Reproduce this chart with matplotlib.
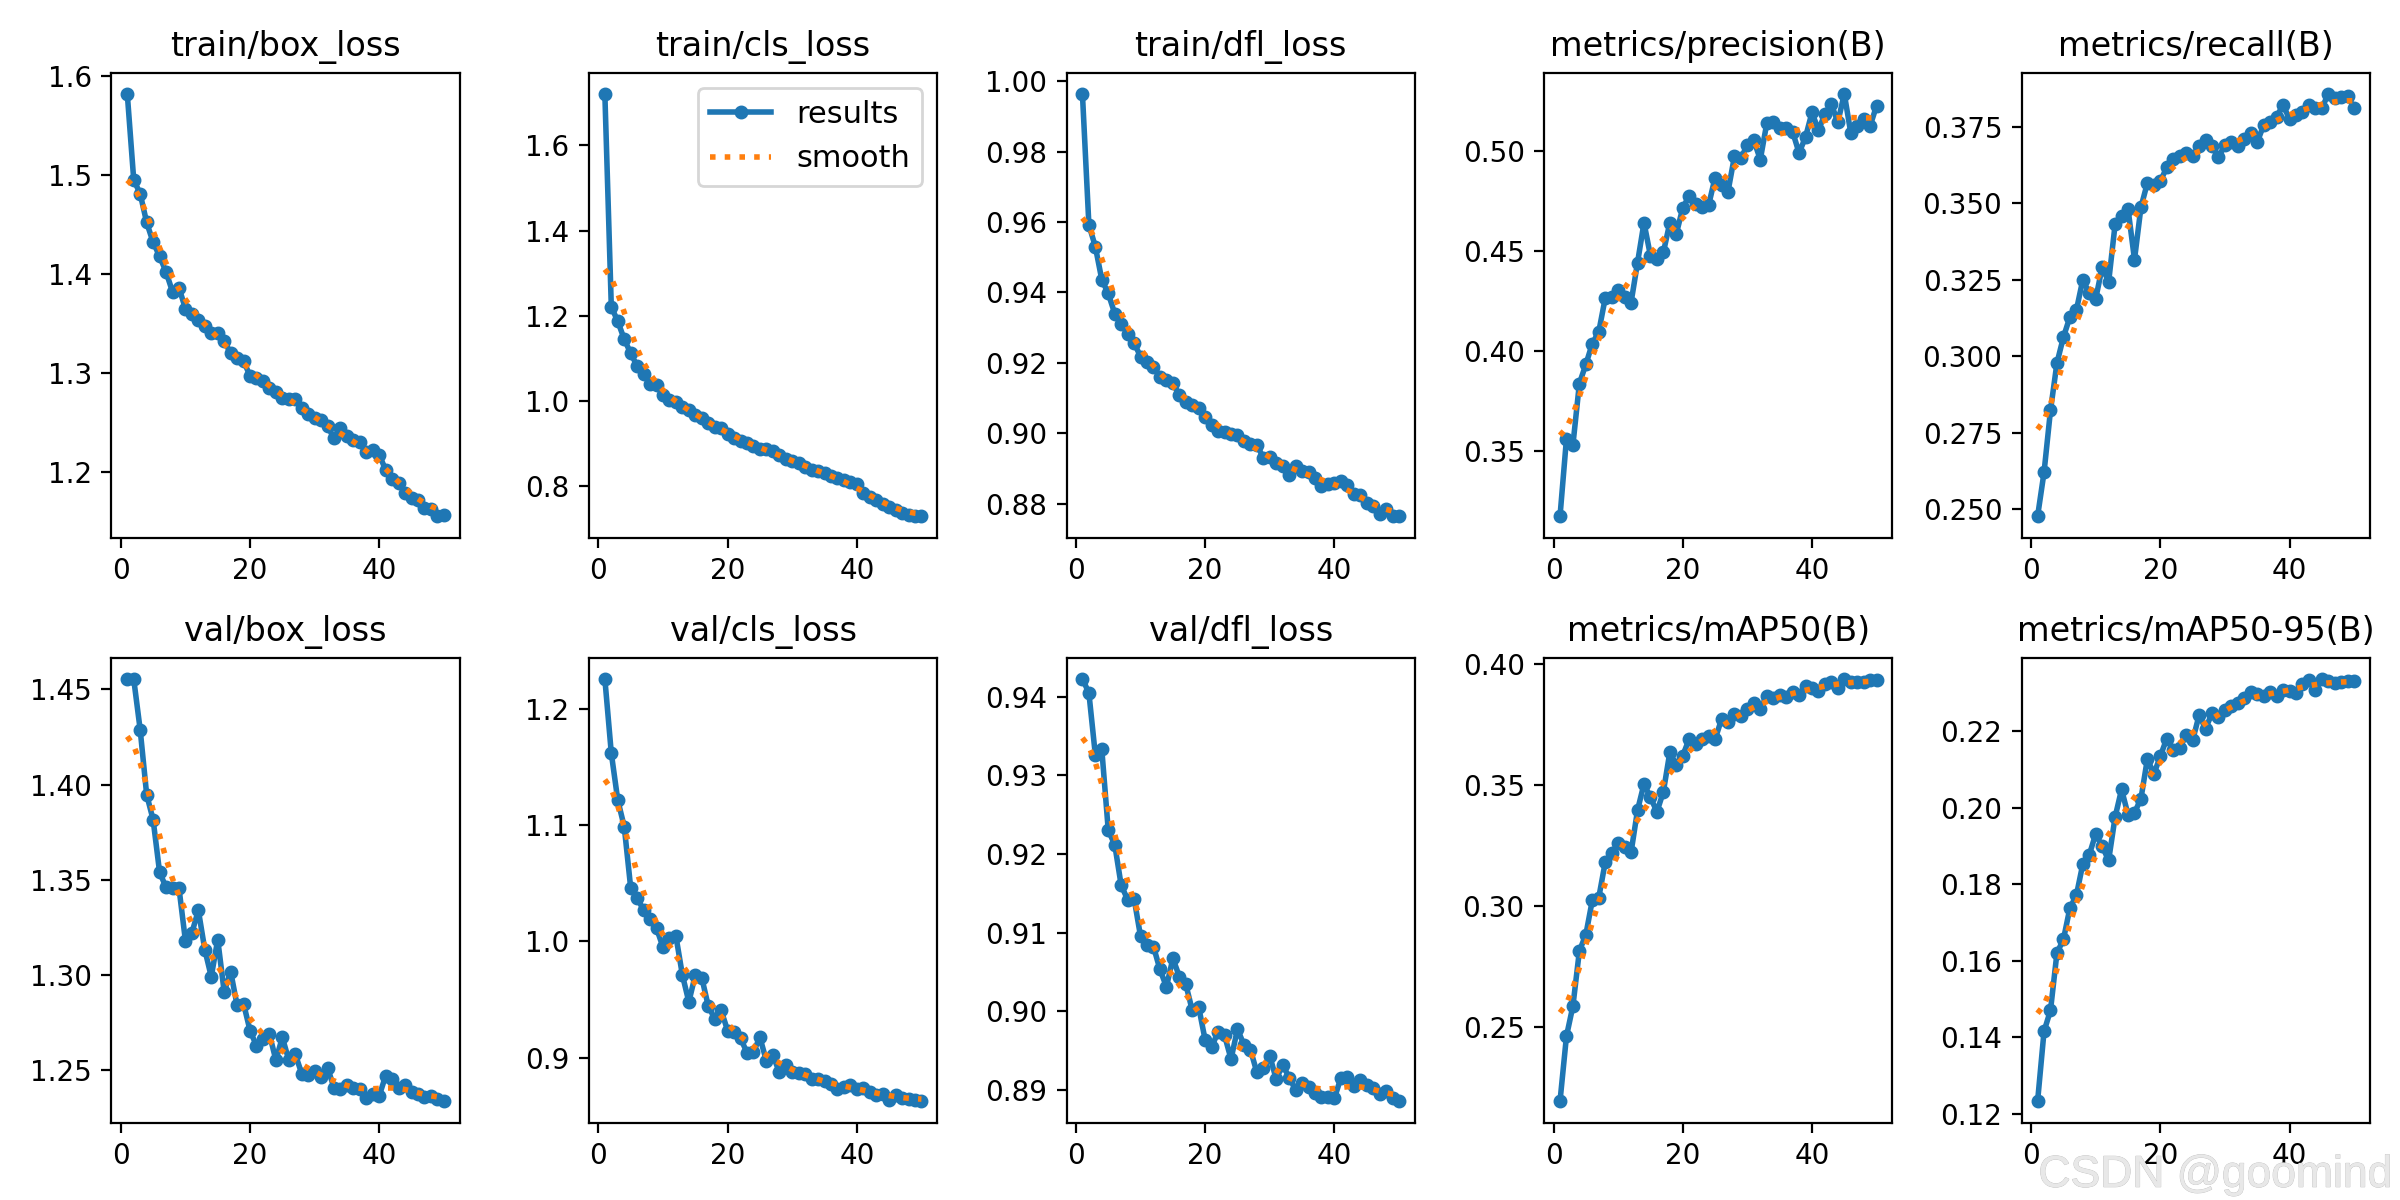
import numpy as np
import matplotlib
matplotlib.use("Agg")
import matplotlib.pyplot as plt
import matplotlib.patheffects as pe
from matplotlib import font_manager
from matplotlib.ticker import MultipleLocator

epochs = list(range(1, 51))

titles = ["train/box_loss", "train/cls_loss", "train/dfl_loss", "metrics/precision(B)", "metrics/recall(B)",
          "val/box_loss", "val/cls_loss", "val/dfl_loss", "metrics/mAP50(B)", "metrics/mAP50-95(B)"]

train_box_loss = [1.582, 1.495, 1.481, 1.452, 1.432, 1.418, 1.402, 1.382, 1.386, 1.365,
                  1.360, 1.353, 1.347, 1.340, 1.340, 1.332, 1.320, 1.315, 1.312, 1.297,
                  1.295, 1.292, 1.285, 1.281, 1.275, 1.274, 1.274, 1.265, 1.258, 1.254,
                  1.252, 1.246, 1.234, 1.244, 1.236, 1.232, 1.230, 1.220, 1.222, 1.217,
                  1.202, 1.193, 1.189, 1.179, 1.174, 1.172, 1.164, 1.162, 1.155, 1.156]

train_cls_loss = [1.721, 1.221, 1.187, 1.145, 1.112, 1.082, 1.064, 1.040, 1.037, 1.013,
                  1.002, 0.997, 0.985, 0.979, 0.967, 0.960, 0.949, 0.940, 0.937, 0.923,
                  0.913, 0.907, 0.902, 0.894, 0.888, 0.887, 0.882, 0.874, 0.864, 0.860,
                  0.854, 0.846, 0.838, 0.836, 0.830, 0.825, 0.820, 0.814, 0.810, 0.804,
                  0.785, 0.775, 0.767, 0.759, 0.752, 0.745, 0.737, 0.733, 0.729, 0.729]

train_dfl_loss = [0.9964, 0.9592, 0.9530, 0.9436, 0.9397, 0.9340, 0.9311, 0.9283, 0.9256, 0.9218,
                  0.9203, 0.9189, 0.9160, 0.9152, 0.9143, 0.9109, 0.9088, 0.9081, 0.9072, 0.9047,
                  0.9024, 0.9006, 0.9004, 0.8999, 0.8995, 0.8978, 0.8970, 0.8968, 0.8930, 0.8932,
                  0.8915, 0.8908, 0.8882, 0.8908, 0.8893, 0.8891, 0.8872, 0.8851, 0.8855, 0.8860,
                  0.8864, 0.8853, 0.8829, 0.8824, 0.8803, 0.8795, 0.8771, 0.8786, 0.8764, 0.8764]

precision = [0.3175, 0.3562, 0.3532, 0.3838, 0.3933, 0.4037, 0.4096, 0.4264, 0.4269, 0.4306,
             0.4269, 0.4242, 0.4441, 0.4640, 0.4475, 0.4461, 0.4492, 0.4640, 0.4584, 0.4714,
             0.4774, 0.4731, 0.4719, 0.4727, 0.4865, 0.4828, 0.4795, 0.4971, 0.4963, 0.5027,
             0.5051, 0.4955, 0.5135, 0.5140, 0.5114, 0.5111, 0.5094, 0.4988, 0.5067, 0.5190,
             0.5101, 0.5182, 0.5232, 0.5140, 0.5283, 0.5089, 0.5123, 0.5157, 0.5123, 0.5224]

recall = [0.2476, 0.2620, 0.2823, 0.2978, 0.3062, 0.3128, 0.3150, 0.3250, 0.3206, 0.3188,
          0.3291, 0.3243, 0.3431, 0.3460, 0.3482, 0.3316, 0.3487, 0.3567, 0.3560, 0.3573,
          0.3617, 0.3645, 0.3653, 0.3664, 0.3653, 0.3686, 0.3708, 0.3686, 0.3650, 0.3692,
          0.3700, 0.3686, 0.3711, 0.3730, 0.3700, 0.3756, 0.3767, 0.3783, 0.3822, 0.3774,
          0.3789, 0.3800, 0.3822, 0.3811, 0.3811, 0.3858, 0.3844, 0.3847, 0.3850, 0.3811]

val_box_loss = [1.4555, 1.4553, 1.4287, 1.3947, 1.3815, 1.3540, 1.3460, 1.3457, 1.3457, 1.3180,
                1.3221, 1.3340, 1.3133, 1.2991, 1.3186, 1.2911, 1.3018, 1.2840, 1.2849, 1.2708,
                1.2628, 1.2663, 1.2690, 1.2553, 1.2672, 1.2553, 1.2584, 1.2482, 1.2477, 1.2495,
                1.2465, 1.2513, 1.2407, 1.2401, 1.2424, 1.2407, 1.2401, 1.2353, 1.2376, 1.2366,
                1.2472, 1.2454, 1.2407, 1.2424, 1.2383, 1.2376, 1.2359, 1.2362, 1.2348, 1.2336]

val_cls_loss = [1.2261, 1.1620, 1.1216, 1.0989, 1.0461, 1.0374, 1.0269, 1.0191, 1.0113, 0.9950,
                1.0025, 1.0045, 0.9711, 0.9479, 0.9711, 0.9688, 0.9444, 0.9334, 0.9406, 0.9232,
                0.9223, 0.9165, 0.9043, 0.9049, 0.9174, 0.8971, 0.9020, 0.8875, 0.8933, 0.8875,
                0.8863, 0.8854, 0.8811, 0.8811, 0.8796, 0.8776, 0.8730, 0.8747, 0.8767, 0.8730,
                0.8738, 0.8701, 0.8680, 0.8689, 0.8637, 0.8680, 0.8651, 0.8642, 0.8637, 0.8622]

val_dfl_loss = [0.9423, 0.9405, 0.9326, 0.9333, 0.9230, 0.9212, 0.9160, 0.9142, 0.9143, 0.9095,
                0.9084, 0.9082, 0.9053, 0.9031, 0.9067, 0.9044, 0.9034, 0.9001, 0.9005, 0.8963,
                0.8954, 0.8974, 0.8969, 0.8939, 0.8977, 0.8957, 0.8951, 0.8922, 0.8927, 0.8943,
                0.8913, 0.8932, 0.8915, 0.8900, 0.8908, 0.8903, 0.8896, 0.8891, 0.8891, 0.8889,
                0.8915, 0.8916, 0.8904, 0.8912, 0.8906, 0.8902, 0.8894, 0.8898, 0.8889, 0.8885]

map50 = [0.2194, 0.2463, 0.2588, 0.2815, 0.2882, 0.3024, 0.3035, 0.3181, 0.3218, 0.3260,
         0.3243, 0.3222, 0.3396, 0.3504, 0.3449, 0.3389, 0.3472, 0.3635, 0.3583, 0.3621,
         0.3690, 0.3667, 0.3690, 0.3701, 0.3688, 0.3771, 0.3760, 0.3792, 0.3785, 0.3815,
         0.3840, 0.3813, 0.3868, 0.3857, 0.3871, 0.3861, 0.3885, 0.3871, 0.3910, 0.3899,
         0.3889, 0.3917, 0.3926, 0.3899, 0.3938, 0.3924, 0.3924, 0.3926, 0.3931, 0.3931]

map50_95 = [0.1233, 0.1416, 0.1471, 0.1621, 0.1656, 0.1738, 0.1771, 0.1853, 0.1877, 0.1932,
            0.1899, 0.1863, 0.1976, 0.2048, 0.1982, 0.1987, 0.2024, 0.2128, 0.2088, 0.2135,
            0.2181, 0.2152, 0.2156, 0.2191, 0.2176, 0.2242, 0.2207, 0.2247, 0.2238, 0.2256,
            0.2267, 0.2273, 0.2288, 0.2302, 0.2297, 0.2291, 0.2302, 0.2293, 0.2308, 0.2304,
            0.2300, 0.2323, 0.2335, 0.2308, 0.2337, 0.2330, 0.2326, 0.2329, 0.2332, 0.2330]

series = [train_box_loss, train_cls_loss, train_dfl_loss, precision, recall,
          val_box_loss, val_cls_loss, val_dfl_loss, map50, map50_95]

# y tick spacing per panel (None = automatic)
tick_steps = [None, None, None, None, 0.025, None, None, None, 0.05, None]


def gaussian_smooth(y, sigma=3.0, truncate=4.0):
    y = np.asarray(y, dtype=float)
    r = int(truncate * sigma + 0.5)
    k = np.arange(-r, r + 1)
    w = np.exp(-0.5 * (k / sigma) ** 2)
    w /= w.sum()
    yp = np.pad(y, r, mode="symmetric")
    return np.convolve(yp, w, mode="valid")


fig, axes = plt.subplots(2, 5, figsize=(12, 6), dpi=200, tight_layout=True)
axes = axes.ravel()
x = np.array(epochs)
for ax, y, t, step in zip(axes, series, titles, tick_steps):
    ax.plot(x, y, marker=".", label="results", linewidth=2, markersize=8, color="#1f77b4")
    ax.plot(x, gaussian_smooth(y), ":", label="smooth", linewidth=2, color="#ff7f0e")
    ax.set_title(t, fontsize=12)
    if step is not None:
        ax.yaxis.set_major_locator(MultipleLocator(step))
axes[1].legend(fontsize=11)

available = {f.name for f in font_manager.fontManager.ttflist}
if "Liberation Sans Narrow" in available:
    wm_family, wm_size = ["Liberation Sans Narrow", "DejaVu Sans"], 20
else:
    wm_family, wm_size = ["Liberation Sans", "DejaVu Sans"], 16

fig.text(0.997, 0.011, "CSDN @goomind", ha="right", va="baseline", fontsize=wm_size,
         family=wm_family, color="#e8e8e8",
         path_effects=[pe.withStroke(linewidth=0.35, foreground="#c0c0c0"), pe.Normal()])

fig.savefig("out.png", dpi=200)
